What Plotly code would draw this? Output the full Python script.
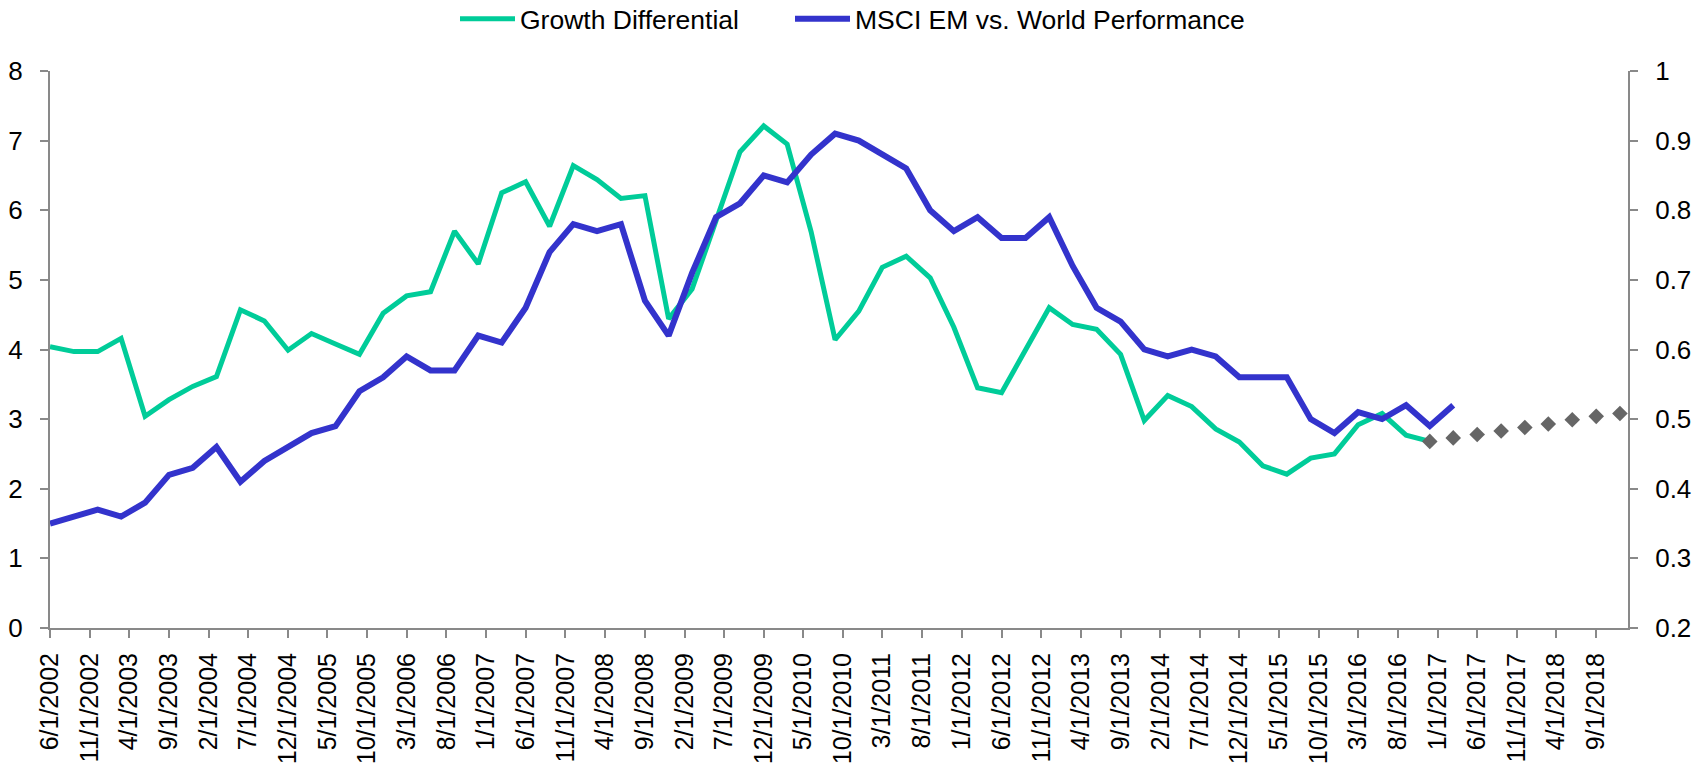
import pandas as pd
import plotly.graph_objects as go

# ---- Data ----
START_DATE = "2002-06-01"   # first quarterly observation

GROWTH_DIFF = [4.04, 3.97, 3.97, 4.16, 3.04, 3.28, 3.47, 3.61, 4.57, 4.41,
               3.99, 4.23, 4.08, 3.93, 4.52, 4.77, 4.83, 5.70, 5.23, 6.25,
               6.41, 5.77, 6.64, 6.44, 6.17, 6.21, 4.44, 4.87, 5.85, 6.84,
               7.21, 6.95, 5.69, 4.14, 4.55, 5.18, 5.34, 5.03, 4.32, 3.45,
               3.38, 4.01, 4.60, 4.36, 4.29, 3.93, 2.98, 3.34, 3.18, 2.86,
               2.67, 2.33, 2.21, 2.44, 2.50, 2.92, 3.08, 2.77, 2.68]

MSCI_EM_VS_WORLD = [0.35, 0.36, 0.37, 0.36, 0.38, 0.42, 0.43, 0.46, 0.41, 0.44,
                    0.46, 0.48, 0.49, 0.54, 0.56, 0.59, 0.57, 0.57, 0.62, 0.61,
                    0.66, 0.74, 0.78, 0.77, 0.78, 0.67, 0.62, 0.71, 0.79, 0.81,
                    0.85, 0.84, 0.88, 0.91, 0.90, 0.88, 0.86, 0.80, 0.77, 0.79,
                    0.76, 0.76, 0.79, 0.72, 0.66, 0.64, 0.60, 0.59, 0.60, 0.59,
                    0.56, 0.56, 0.56, 0.50, 0.48, 0.51, 0.50, 0.52, 0.49, 0.52]

GROWTH_FORECAST = [2.68, 2.73, 2.78, 2.83, 2.88, 2.93, 2.99, 3.04, 3.08]

TICK_LABELS = ["6/1/2002", "11/1/2002", "4/1/2003", "9/1/2003", "2/1/2004",
               "7/1/2004", "12/1/2004", "5/1/2005", "10/1/2005", "3/1/2006",
               "8/1/2006", "1/1/2007", "6/1/2007", "11/1/2007", "4/1/2008",
               "9/1/2008", "2/1/2009", "7/1/2009", "12/1/2009", "5/1/2010",
               "10/1/2010", "3/1/2011", "8/1/2011", "1/1/2012", "6/1/2012",
               "11/1/2012", "4/1/2013", "9/1/2013", "2/1/2014", "7/1/2014",
               "12/1/2014", "5/1/2015", "10/1/2015", "3/1/2016", "8/1/2016",
               "1/1/2017", "6/1/2017", "11/1/2017", "4/1/2018", "9/1/2018"]

SERIES_NAMES = ["Growth Differential", "MSCI EM vs. World Performance"]

# ---- Build ----
quarters = pd.date_range(start=START_DATE, periods=len(MSCI_EM_VS_WORLD) + 8, freq="3MS")
dates_growth = quarters[:len(GROWTH_DIFF)]
dates_msci = quarters[:len(MSCI_EM_VS_WORLD)]
dates_fc = quarters[len(GROWTH_DIFF) - 1:len(GROWTH_DIFF) - 1 + len(GROWTH_FORECAST)]
tick_vals = pd.to_datetime(TICK_LABELS, format="%m/%d/%Y")

GREEN = "#00CC99"
BLUE = "#3333CC"
GREY_AX = "#898989"
FONT = "Liberation Sans, Arial, sans-serif"

fig = go.Figure()
fig.add_trace(go.Scatter(x=dates_growth, y=GROWTH_DIFF, name=SERIES_NAMES[0],
                         mode="lines", line=dict(color=GREEN, width=5),
                         yaxis="y", legend="legend"))
fig.add_trace(go.Scatter(x=dates_fc, y=GROWTH_FORECAST, name="Forecast",
                         mode="markers", showlegend=False,
                         marker=dict(symbol="diamond", size=12, color="#666666"),
                         yaxis="y"))
fig.add_trace(go.Scatter(x=dates_msci, y=MSCI_EM_VS_WORLD, name=SERIES_NAMES[1],
                         mode="lines", line=dict(color=BLUE, width=6),
                         yaxis="y2", legend="legend2"))

W, H = 1702, 764
ML, MR, MT, MB = 50, 74, 71, 136
plot_w = W - ML - MR
plot_h = H - MT - MB

axis_common = dict(showgrid=False, zeroline=False, showline=True,
                   linecolor=GREY_AX, linewidth=2, ticks="outside",
                   ticklen=8, tickwidth=2, tickcolor=GREY_AX, automargin=False)

legend_common = dict(orientation="h", xanchor="left",
                     y=1 + (MT - 19) / plot_h, yanchor="middle",
                     itemwidth=55,
                     font=dict(family=FONT, size=26.5, color="#000000"),
                     bgcolor="rgba(0,0,0,0)")

fig.update_layout(
    width=W, height=H,
    margin=dict(l=ML, r=MR, t=MT, b=MB, pad=0, autoexpand=False),
    paper_bgcolor="white", plot_bgcolor="white",
    font=dict(family=FONT, size=26, color="#000000"),
    xaxis=dict(type="date", range=["2002-06-01", "2019-01-01"],
               tickmode="array", tickvals=tick_vals, ticktext=TICK_LABELS,
               tickangle=-90, ticklabelstandoff=5,
               tickfont=dict(family=FONT, size=25, color="#000000"),
               **axis_common),
    yaxis=dict(range=[0, 8], dtick=1, tick0=0, ticklabelstandoff=12,
               tickfont=dict(family=FONT, size=26, color="#000000"),
               **axis_common),
    yaxis2=dict(range=[0.2, 1.0], dtick=0.1, tick0=0.2, overlaying="y",
                side="right", ticklabelstandoff=12,
                tickfont=dict(family=FONT, size=26, color="#000000"),
                **axis_common),
    legend=dict(x=(455 - ML) / plot_w, **legend_common),
    legend2=dict(x=(790 - ML) / plot_w, **legend_common),
    showlegend=True,
)

fig.write_html("out.html",
               config={"displayModeBar": False},
               post_script="document.body.style.margin='0';document.body.style.overflow='hidden';")
